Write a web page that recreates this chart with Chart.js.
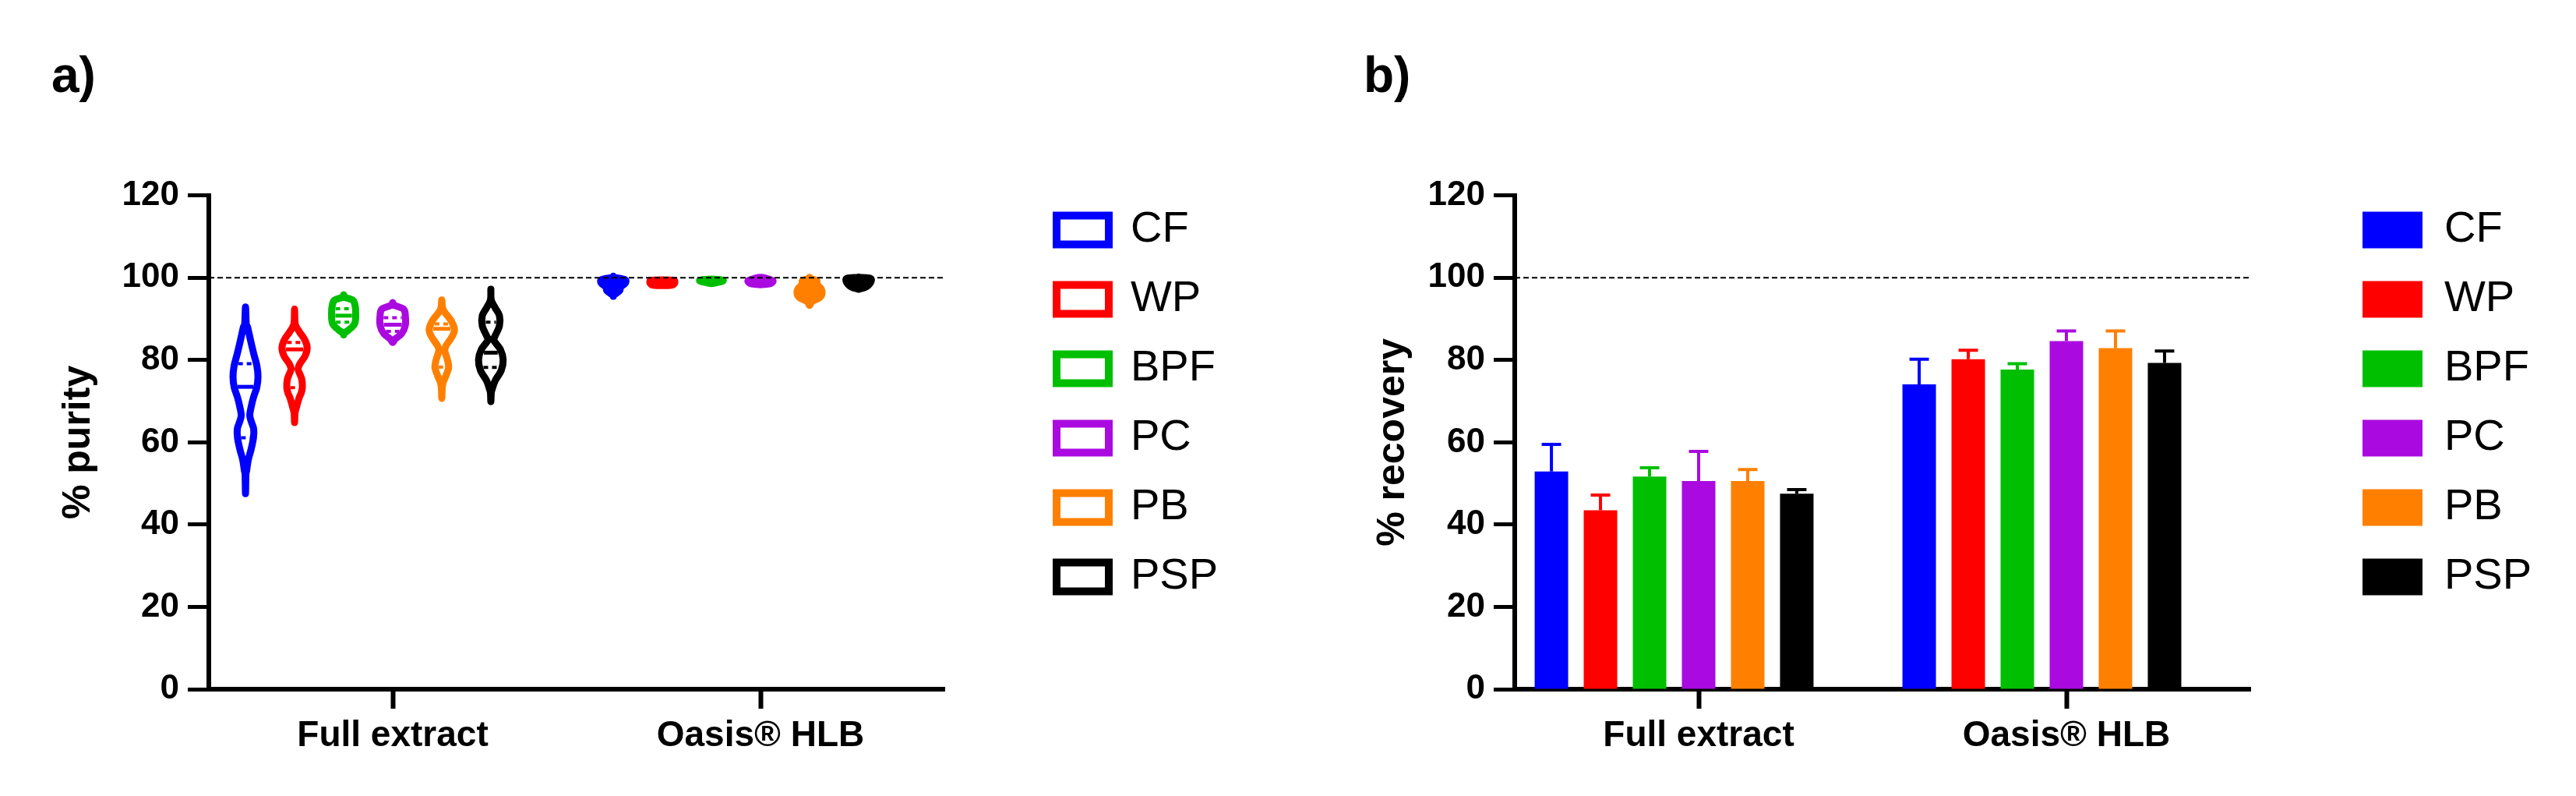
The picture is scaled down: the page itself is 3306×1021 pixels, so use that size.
<!DOCTYPE html>
<html lang="en">
<head>
<meta charset="UTF-8">
<title>Purity and recovery</title>
<script src="https://cdn.jsdelivr.net/npm/chart.js"></script>
<style>
  body { margin: 0; background: #fff; }
  .wrap { position: relative; width: 3306px; height: 1021px; }
  #chartA { position: absolute; left: 0; top: 0; }
  #chartB { position: absolute; left: 1650px; top: 0; }
</style>
</head>
<body>
<div class="wrap">
  <canvas id="chartA" width="1650" height="1021"></canvas>
  <canvas id="chartB" width="1656" height="1021"></canvas>
</div>
<script>
// categories and series
const groups = ['Full extract', 'Oasis\u00AE HLB'];
const sources = ['CF', 'WP', 'BPF', 'PC', 'PB', 'PSP'];
const colors = ['#0000ff', '#ff0000', '#00bf00', '#aa0ae0', '#ff8000', '#000000'];
const refValue = 100;

// a) % purity, per source: [Full extract, Oasis HLB]
const purityMedian = [[73.5, 98.9], [82.6, 98.8], [90.8, 99.2], [88.6, 99.3], [87.6, 96.5], [81.8, 99.1]];
const purityQ1 = [[61.1, 97.5], [73.3, 98.5], [89.2, 99.0], [87.0, 99.0], [78.3, 95.5], [78.2, 98.3]];
const purityQ3 = [[79.1, 99.5], [84.3, 99.2], [92.5, 99.5], [90.3, 99.6], [88.8, 97.8], [89.2, 99.7]];

// violin outlines, [value, half width] from top to bottom
const shapeCF = [
  [[92.9, 0], [88.8, 1], [88.0, 2.7], [84.8, 6.5], [81.6, 10.5], [78.5, 14.7], [75.9, 16], [73.4, 14.5], [70.9, 10.2], [68.4, 7], [66.5, 5.5], [65.0, 7.5], [63.3, 10.5], [61.1, 10.2], [58.3, 7.2], [55.7, 3.5], [53.2, 1.5], [52.0, 0.5], [47.5, 0]],
  [[100.4, 0], [100.1, 1], [99.6, 14.7], [98.7, 15.5], [97.8, 9.7], [96.8, 8], [95.9, 1.3], [95.5, 0]]
];
const shapeWP = [
  [[92.4, 0], [89.2, 0.5], [88.0, 2.5], [86.7, 6.8], [84.8, 13.5], [82.9, 16.2], [81.0, 13.5], [79.1, 6.8], [77.8, 4.5], [76.5, 7], [75.3, 9.3], [73.4, 10], [72.0, 8.5], [70.9, 6], [68.4, 2.2], [67.0, 0.5], [64.8, 0]],
  [[99.5, 0], [99.4, 14], [99.0, 16], [98.5, 15], [98.2, 12], [98.1, 0]]
];
const shapeBPF = [
  [[95.9, 0], [95.3, 1], [94.6, 11.3], [93.6, 14.3], [91.4, 15.5], [88.9, 14.2], [87.3, 6.3], [86.6, 1], [86.1, 0]],
  [[99.7, 0], [99.6, 8], [99.4, 15], [99.1, 13], [98.8, 6], [98.6, 0]]
];
const shapePC = [
  [[94.0, 0], [93.4, 1], [92.4, 13.8], [90.8, 16.2], [88.3, 16], [86.4, 11.3], [85.1, 3], [84.3, 0]],
  [[100.1, 0], [99.9, 7], [99.3, 15.8], [98.6, 13], [98.4, 6], [98.3, 0]]
];
const shapePB = [
  [[94.6, 0], [92.7, 1], [91.4, 4.7], [89.5, 12.2], [87.3, 16.3], [85.4, 12.2], [83.5, 5.5], [82.3, 3.8], [80.1, 7.2], [78.2, 8.8], [76.3, 5.5], [74.4, 1.5], [73.0, 0.5], [70.7, 0]],
  [[100.1, 0], [99.8, 1], [99.3, 9], [98.4, 9.7], [97.3, 15], [96.2, 16], [95.2, 13], [94.2, 3], [93.3, 0]]
];
const shapePSP = [
  [[97.2, 0], [94.6, 0.5], [92.7, 5.5], [90.8, 11], [88.3, 11], [85.8, 5.2], [84.8, 3.8], [82.6, 12.2], [80.1, 15.8], [77.5, 13.3], [75.0, 5.5], [73.1, 2], [72.0, 0.5], [69.9, 0]],
  [[100.2, 0], [100.1, 1.5], [99.9, 14.7], [99.0, 15.7], [97.8, 9.7], [97.3, 1.5], [97.2, 0]]
];
const purityShapes = [shapeCF, shapeWP, shapeBPF, shapePC, shapePB, shapePSP];

// b) % recovery, mean and SD per source: [Full extract, Oasis HLB]
const recoveryMean = [[52.9, 74.1], [43.5, 80.2], [51.7, 77.7], [50.6, 84.6], [50.6, 82.9], [47.5, 79.3]];
const recoverySD = [[6.6, 6.1], [3.7, 2.2], [2.1, 1.4], [7.2, 2.5], [2.8, 4.2], [1.0, 2.9]];

Chart.defaults.font.family = "'Liberation Sans', Arial, sans-serif";
Chart.defaults.color = '#000';

const tickFont = { size: 44, weight: 'bold' };
const catFont = { size: 46, weight: 'bold' };
const axisTitleFont = { size: 50, weight: 'bold', lineHeight: 1.2 };
const panelFont = { size: 64, weight: 'bold', lineHeight: 1.2 };
const legendFont = { size: 56 };
const violinLine = 9;   // outline width at reference bar width (43 px)
const filledGroup = [false, true];

// move the legend to a fixed spot beside the plot
const legendSpot = {
  id: 'legendSpot',
  afterLayout(chart, args, opts) {
    const lg = chart.legend;
    lg.left = opts.left; lg.right = opts.left + 320; lg.width = 320;
    lg.top = opts.top; lg.bottom = opts.top + 720; lg.height = 720;
  }
};

const refLine = {
  id: 'refLine',
  afterDatasetsDraw(chart) {
    const { ctx, chartArea: a, scales: { y } } = chart;
    const py = y.getPixelForValue(refValue);
    ctx.save();
    ctx.setLineDash([7, 4]);
    ctx.lineWidth = 2;
    ctx.strokeStyle = '#000';
    ctx.beginPath();
    ctx.moveTo(a.left, py);
    ctx.lineTo(a.right, py);
    ctx.stroke();
    ctx.restore();
  }
};

function hwAt(shape, v) {
  for (let i = 0; i < shape.length - 1; i++) {
    const [v0, w0] = shape[i], [v1, w1] = shape[i + 1];
    if (v <= v0 && v >= v1) return w0 + (w1 - w0) * (v0 - v) / (v0 - v1 || 1);
  }
  return 0;
}

function smoothLoop(ctx, pts) {
  const n = pts.length;
  const p = i => pts[(i + n) % n];
  ctx.moveTo(pts[0].x, pts[0].y);
  for (let i = 0; i < n; i++) {
    const p0 = p(i - 1), p1 = p(i), p2 = p(i + 1), p3 = p(i + 2);
    ctx.bezierCurveTo(
      p1.x + (p2.x - p0.x) / 6, p1.y + (p2.y - p0.y) / 6,
      p2.x - (p3.x - p1.x) / 6, p2.y - (p3.y - p1.y) / 6,
      p2.x, p2.y);
  }
  ctx.closePath();
}

const violins = {
  id: 'violins',
  afterDatasetsDraw(chart) {
    const ctx = chart.ctx, y = chart.scales.y;
    sources.forEach((s, i) => {
      chart.getDatasetMeta(i).data.forEach((bar, j) => {
        const k = bar.width / 43;
        const shape = purityShapes[i][j];
        const cx = bar.x;
        const right = shape.map(([v, w]) => ({ x: cx + w * k, y: y.getPixelForValue(v) }));
        const left = shape.slice(1, -1).reverse().map(([v, w]) => ({ x: cx - w * k, y: y.getPixelForValue(v) }));
        ctx.save();
        ctx.strokeStyle = colors[i];
        ctx.fillStyle = filledGroup[j] ? colors[i] : '#fff';
        ctx.lineWidth = violinLine * k;
        ctx.lineJoin = 'round';
        ctx.lineCap = 'round';
        ctx.beginPath();
        smoothLoop(ctx, right.concat(left));
        ctx.fill();
        ctx.stroke();
        // median (solid) and quartiles (dotted)
        [[purityQ3, [6, 5], 4], [purityMedian, [], 5], [purityQ1, [6, 5], 4]].forEach(([arr, dash, lw]) => {
          const v = arr[i][j];
          const inner = hwAt(shape, v) * k - violinLine * k / 2;
          if (inner < 1) return;
          const py = y.getPixelForValue(v);
          ctx.setLineDash(dash);
          ctx.lineWidth = lw;
          ctx.lineCap = 'butt';
          ctx.beginPath();
          ctx.moveTo(cx - inner, py);
          ctx.lineTo(cx + inner, py);
          ctx.stroke();
        });
        ctx.restore();
      });
    });
  }
};

const errorBars = {
  id: 'errorBars',
  afterDatasetsDraw(chart) {
    const ctx = chart.ctx, y = chart.scales.y;
    sources.forEach((s, i) => {
      chart.getDatasetMeta(i).data.forEach((bar, j) => {
        const top = y.getPixelForValue(recoveryMean[i][j] + recoverySD[i][j]);
        const half = bar.width * 0.29;
        ctx.save();
        ctx.strokeStyle = colors[i];
        ctx.lineWidth = 4;
        ctx.beginPath();
        ctx.moveTo(bar.x, bar.y);
        ctx.lineTo(bar.x, top);
        ctx.moveTo(bar.x - half, top);
        ctx.lineTo(bar.x + half, top);
        ctx.stroke();
        ctx.restore();
      });
    });
  }
};

function yScale(title, width, titlePad) {
  return {
    min: 0,
    max: 120,
    ticks: { stepSize: 20, font: tickFont, padding: 11, color: '#000' },
    grid: { drawOnChartArea: false, tickLength: 27, tickWidth: 5, tickColor: '#000' },
    border: { display: true, width: 6, color: '#000' },
    title: { display: true, text: title, font: axisTitleFont, color: '#000', padding: { top: titlePad, bottom: 0 } },
    afterFit: s => { s.width = width; }
  };
}

const xScale = {
  ticks: { font: catFont, padding: 8, maxRotation: 0, autoSkip: false, color: '#000' },
  grid: { offset: false, drawOnChartArea: false, tickLength: 25, tickWidth: 6, tickColor: '#000' },
  border: { display: true, width: 6, color: '#000' },
  afterFit: s => { s.height = 137; }
};

function legendOpts(filled) {
  return {
    position: 'right',
    align: 'start',
    maxWidth: 1,
    labels: {
      boxWidth: filled ? 77 : 67,
      boxHeight: filled ? 47 : 37,
      padding: 33,
      color: '#000',
      font: legendFont,
      generateLabels: () => sources.map((s, i) => ({
        text: s,
        fillStyle: filled ? colors[i] : '#ffffff',
        strokeStyle: colors[i],
        lineWidth: filled ? 0 : 10,
        lineJoin: 'miter',
        hidden: false,
        datasetIndex: i
      }))
    }
  };
}

// 6 series plus one empty slot, as in the original grouping
function barSets(values, visible) {
  const sets = sources.map((s, i) => ({
    label: s,
    data: values[i],
    backgroundColor: visible ? colors[i] : 'rgba(0,0,0,0)',
    borderWidth: 0,
    categoryPercentage: 0.934,
    barPercentage: 0.683
  }));
  sets.push({ label: '', data: groups.map(() => null), categoryPercentage: 0.934, barPercentage: 0.683 });
  return sets;
}

function panelTitle(text) {
  return {
    display: true, text: text, align: 'start', color: '#000', font: panelFont,
    padding: { top: 62, bottom: 112 }
  };
}

new Chart(document.getElementById('chartA'), {
  type: 'bar',
  data: { labels: groups, datasets: barSets(purityMedian, false) },
  options: {
    responsive: false,
    devicePixelRatio: 1,
    animation: false,
    events: [],
    layout: { padding: { left: 66, right: 437, top: 0, bottom: 0 } },
    scales: { x: xScale, y: yScale('% purity', 202, 5) },
    plugins: {
      title: panelTitle('a)'),
      legend: legendOpts(false),
      tooltip: { enabled: false },
      legendSpot: { left: 1323, top: 234 }
    }
  },
  plugins: [legendSpot, violins, refLine]
});

new Chart(document.getElementById('chartB'), {
  type: 'bar',
  data: { labels: groups, datasets: barSets(recoveryMean, true) },
  options: {
    responsive: false,
    devicePixelRatio: 1,
    animation: false,
    events: [],
    layout: { padding: { left: 100, right: 417, top: 0, bottom: 0 } },
    scales: { x: xScale, y: yScale('% recovery', 194, 8) },
    plugins: {
      title: panelTitle('b)'),
      legend: legendOpts(true),
      tooltip: { enabled: false },
      legendSpot: { left: 1349, top: 234 }
    }
  },
  plugins: [legendSpot, errorBars, refLine]
});
</script>
</body>
</html>
